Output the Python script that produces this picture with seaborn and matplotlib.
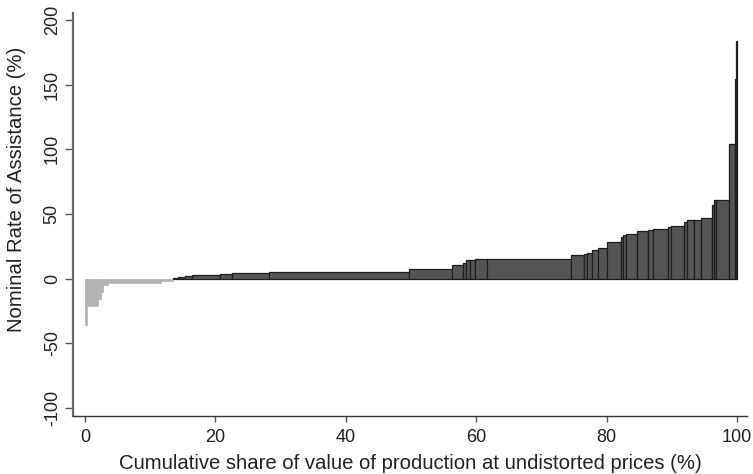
import numpy as np
import pandas as pd
import matplotlib
matplotlib.use("Agg")
import matplotlib.pyplot as plt
import seaborn as sns

# ---- data ----
# cumulative share of production (%) at the right edge of each bar, and the NRA (%) of each bar
neg_cum_end = [0.35, 2.04, 2.41, 2.72, 3.58, 11.67, 13.56]
neg_nra = [-36, -21, -16, -10, -5, -3.3, -1.5]

pos_cum_end = [14.2, 14.8, 15.4, 16.4, 20.7, 22.6, 28.2, 49.7, 56.33, 57.96,
               58.37, 59.03, 59.8, 61.6, 74.5, 76.45, 76.9, 77.7, 78.6, 80.0,
               82.2, 82.45, 82.95, 84.7, 86.3, 87.05, 89.45, 89.86, 91.9, 92.3,
               93.4, 94.5, 96.2, 96.4, 96.8, 98.8, 99.66, 99.85, 100.0]
pos_nra = [0.4, 0.9, 1.5, 2.2, 3.0, 3.8, 4.3, 5.0, 7.7, 10.3,
           12.1, 14.2, 14.7, 15.0, 15.3, 18.0, 19.3, 19.8, 21.9, 23.7,
           28.4, 32.2, 33.5, 34.5, 36.6, 37.4, 38.7, 40.0, 40.5, 43.9,
           45.1, 45.6, 46.9, 57.2, 60.6, 61.1, 104.0, 154.0, 184.0]

yticks = [-100, -50, 0, 50, 100, 150, 200]
ytick_labels = ["-100", "-50", "0", "50", "100", "150", "200"]
xticks = [0, 20, 40, 60, 80, 100]
xtick_labels = ["0", "20", "40", "60", "80", "100"]

xlabel = "Cumulative share of value of production at undistorted prices (%)"
ylabel = "Nominal Rate of Assistance (%)"

# ---- style ----
sns.set_theme(style="ticks")
plt.rcParams["font.family"] = ["Liberation Sans", "DejaVu Sans"]
plt.rcParams["axes.unicode_minus"] = False

fig = plt.figure(figsize=(7.53, 4.74), dpi=100)
ax = fig.add_axes([73 / 753, 1 - 416 / 474, 674 / 753, 403 / 474])

def frame(ends, start, vals):
    edges = [float(start)] + [float(e) for e in ends]
    mids = [(a + b) / 2 for a, b in zip(edges[:-1], edges[1:])]
    return pd.DataFrame({"share": mids, "nra": [float(v) for v in vals]}), edges

neg_df, neg_edges = frame(neg_cum_end, 0.0, neg_nra)
pos_df, pos_edges = frame(pos_cum_end, neg_cum_end[-1], pos_nra)

sns.histplot(data=neg_df, x="share", weights="nra", bins=neg_edges, ax=ax,
             color="#b3b3b3", edgecolor="#aaaaaa", linewidth=0.4, alpha=1.0,
             shrink=1.0)
sns.histplot(data=pos_df, x="share", weights="nra", bins=pos_edges, ax=ax,
             color="#555555", edgecolor="#1e1e1e", linewidth=0.9, alpha=1.0,
             shrink=1.0)

ax.set_xlim(-1.85, 101.5)
ax.set_ylim(-106.2, 205.4)

ax.set_yticks(yticks)
ax.set_yticklabels(ytick_labels, rotation=90, va="center")
ax.set_xticks(xticks)
ax.set_xticklabels(xtick_labels)

ax.tick_params(axis="y", length=5.8, width=1.0, color="#555555", pad=3,
               labelsize=13, labelcolor="#222222")
ax.tick_params(axis="x", length=4.3, width=1.0, color="#555555", pad=5,
               labelsize=13, labelcolor="#222222")

for side in ["top", "right"]:
    ax.spines[side].set_visible(False)
ax.spines["left"].set_color("#666666")
ax.spines["left"].set_linewidth(1.6)
ax.spines["bottom"].set_color("#333333")
ax.spines["bottom"].set_linewidth(1.0)

ax.set_xlabel(xlabel, fontsize=14.6, color="#222222")
ax.set_ylabel(ylabel, fontsize=14.6, color="#222222")
ax.xaxis.set_label_coords(0.5, -0.094)
ax.yaxis.set_label_coords(-0.0697, 0.563)
ax.grid(False)
ax.set_facecolor("white")

fig.savefig("out.png", dpi=100, facecolor="white")
